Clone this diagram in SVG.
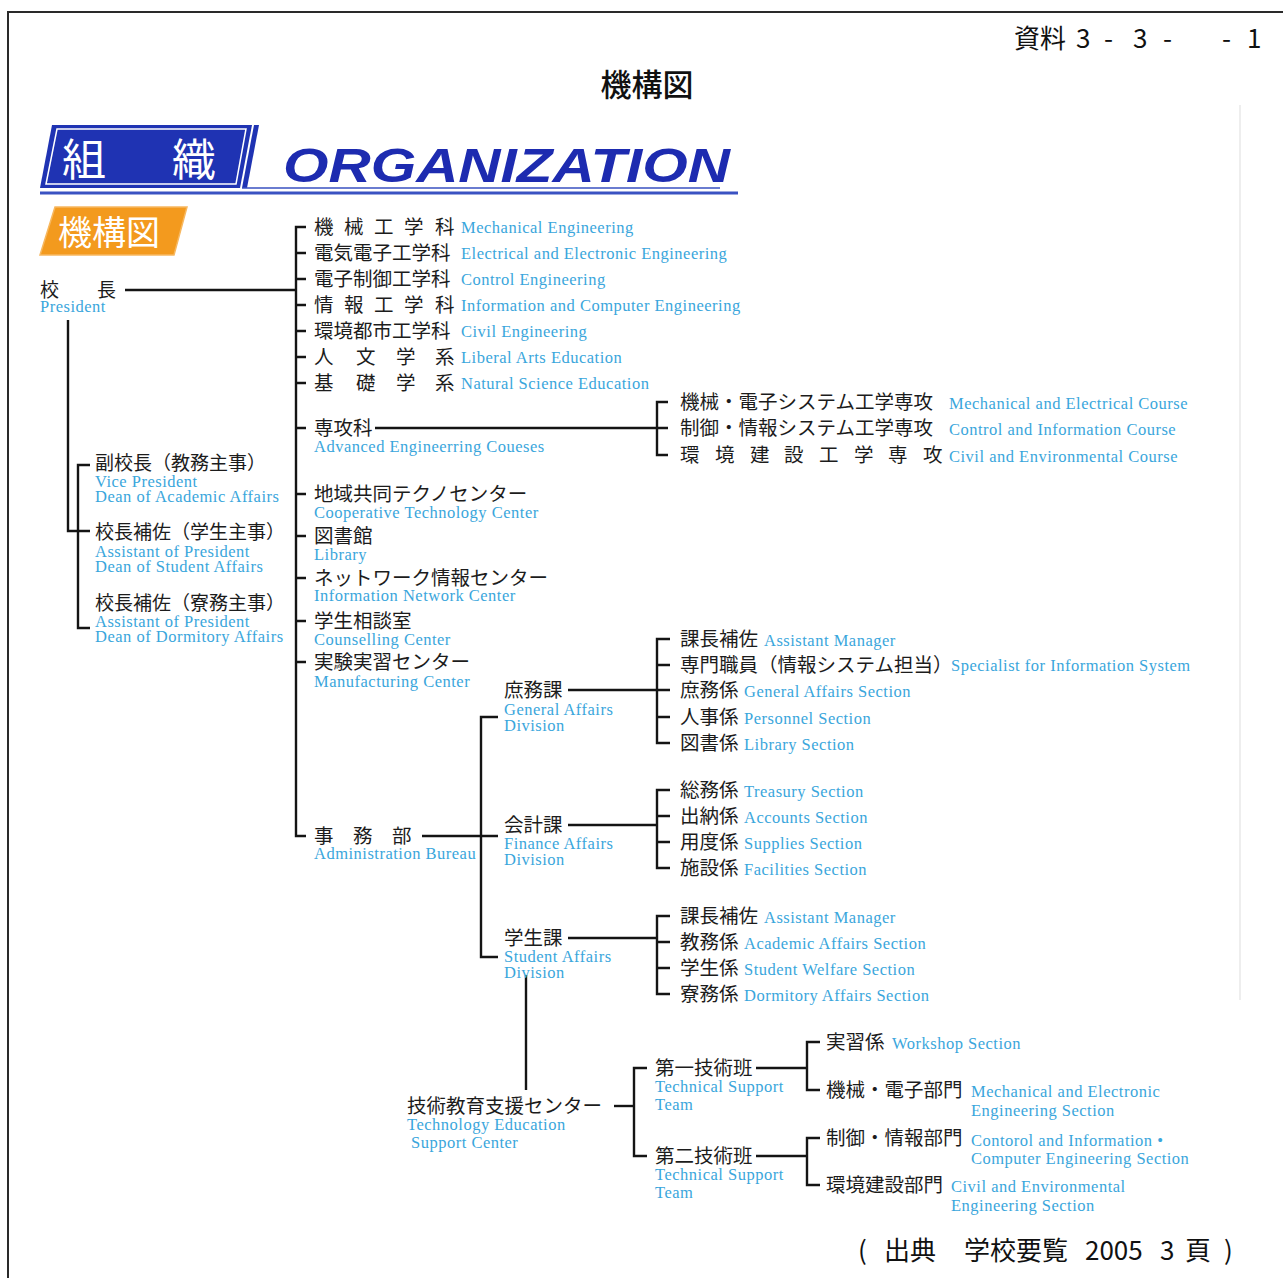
<svg xmlns="http://www.w3.org/2000/svg" width="1283" height="1278" viewBox="0 0 1283 1278">
<style>
.ln{stroke:#141414;stroke-width:2.4;fill:none}
.jp{font-family:"Noto Sans CJK JP",sans-serif;font-size:19.5px;fill:#1c1c1c}
.jps{font-family:"Noto Sans CJK JP",sans-serif;font-size:19px;fill:#1c1c1c}
.en{font-family:"Liberation Serif","Noto Sans CJK JP",serif;font-size:16.5px;letter-spacing:0.5px;fill:#3aa6dc}
.hd{font-family:"Noto Sans CJK JP",sans-serif;fill:#111}
</style>
<rect x="0" y="0" width="1283" height="1278" fill="#ffffff"/>
<path d="M8,1278 V12 H1283" fill="none" stroke="#2a2a2a" stroke-width="2"/>
<path d="M1240,105 V1000" stroke="#eeeeee" stroke-width="2" fill="none"/>

<g id="header">
<text class="hd" font-size="26" y="48"><tspan x="1014">資料</tspan><tspan x="1076">3</tspan><tspan x="1104">-</tspan><tspan x="1133">3</tspan><tspan x="1163">-</tspan><tspan x="1222">-</tspan><tspan x="1247">1</tspan></text>
<text class="hd" font-size="31" font-weight="500" x="647" y="96" text-anchor="middle">機構図</text>
</g>

<g id="banner-org">
<polygon points="52,125 252,125 240,188 40,188" fill="#1f33b3"/>
<polygon points="57,129 246,129 236,184 46,184" fill="none" stroke="#ffffff" stroke-width="1.5"/>
<polygon points="254,125 259,125 247,188 242,188" fill="#1f33b3"/>
<text font-family="Noto Sans CJK JP,sans-serif" font-size="44" fill="#ffffff" y="176"><tspan x="62">組</tspan><tspan x="172">織</tspan></text>
<line x1="242" y1="188" x2="720" y2="188" stroke="#3850c0" stroke-width="1.5"/>
<line x1="40" y1="193" x2="738" y2="193" stroke="#3a52c2" stroke-width="3"/>
<text x="283" y="182" font-family="Liberation Sans,Arial,sans-serif" font-weight="bold" font-style="italic" font-size="48" fill="#1d2bb0" textLength="447" lengthAdjust="spacingAndGlyphs">ORGANIZATION</text>
</g>

<g id="banner-kikouzu">
<polygon points="55,207 187,207 174,255 40,255" fill="#f39a1e" stroke="#f7b860" stroke-width="1.5"/>
<text x="58" y="245" font-family="Noto Sans CJK JP,sans-serif" font-size="34" fill="#ffffff">機構図</text>
</g>

<g id="connectors">
<path class="ln" d="M125,290 H296"/>
<path class="ln" d="M68,320 V531 H90"/>
<path class="ln" d="M90,465 H78 V628 H90"/>
<path class="ln" d="M306,227 H296 V836 H306"/>
<path class="ln" d="M296,253 H306 M296,279 H306 M296,305 H306 M296,331 H306 M296,357 H306 M296,383 H306 M296,428 H306 M296,494 H306 M296,536 H306 M296,578 H306 M296,621 H306 M296,662 H306"/>
<path class="ln" d="M375,428 H668"/>
<path class="ln" d="M668,402 H657 V455 H668"/>
<path class="ln" d="M422,836 H498"/>
<path class="ln" d="M498,717 H481 V957 H498"/>
<path class="ln" d="M568,690 H670"/>
<path class="ln" d="M670,639 H657 V743 H670 M657,665 H670 M657,717 H670"/>
<path class="ln" d="M568,825 H657"/>
<path class="ln" d="M670,790 H657 V868 H670 M657,816 H670 M657,842 H670"/>
<path class="ln" d="M568,938 H657"/>
<path class="ln" d="M670,916 H657 V994 H670 M657,942 H670 M657,968 H670"/>
<path class="ln" d="M526,975 V1090"/>
<path class="ln" d="M614,1106 H634"/>
<path class="ln" d="M647,1068 H634 V1156 H647"/>
<path class="ln" d="M756,1068 H807"/>
<path class="ln" d="M820,1042 H807 V1090 H820"/>
<path class="ln" d="M756,1156 H807"/>
<path class="ln" d="M820,1138 H807 V1185 H820"/>
</g>

<g id="president"><text class="jps" y="297"><tspan x="40">校</tspan><tspan x="97">長</tspan></text><text class="en" x="40" y="312">President</text></g>
<g id="vice-president"><text class="jps" x="95" y="470">副校長（教務主事）</text><text class="en" x="95" y="487">Vice President</text><text class="en" x="95" y="502">Dean of Academic Affairs</text></g>
<g id="asst-student"><text class="jps" x="95" y="539">校長補佐（学生主事）</text><text class="en" x="95" y="557">Assistant of President</text><text class="en" x="95" y="572">Dean of Student Affairs</text></g>
<g id="asst-dorm"><text class="jps" x="95" y="610">校長補佐（寮務主事）</text><text class="en" x="95" y="627">Assistant of President</text><text class="en" x="95" y="642">Dean of Dormitory Affairs</text></g>

<g id="dept-mech"><text class="jp" y="234" x="314 344 374 404 435">機械工学科</text><text class="en" x="461" y="233">Mechanical Engineering</text></g>
<g id="dept-elec"><text class="jp" x="314" y="260">電気電子工学科</text><text class="en" x="461" y="259">Electrical and Electronic Engineering</text></g>
<g id="dept-ctrl"><text class="jp" x="314" y="286">電子制御工学科</text><text class="en" x="461" y="285">Control Engineering</text></g>
<g id="dept-info"><text class="jp" y="312" x="314 344 374 404 435">情報工学科</text><text class="en" x="461" y="311">Information and Computer Engineering</text></g>
<g id="dept-civil"><text class="jp" x="314" y="338">環境都市工学科</text><text class="en" x="461" y="337">Civil Engineering</text></g>
<g id="dept-liberal"><text class="jp" y="364" x="314 356 396 435">人文学系</text><text class="en" x="461" y="363">Liberal Arts Education</text></g>
<g id="dept-natural"><text class="jp" y="390" x="314 356 396 435">基礎学系</text><text class="en" x="461" y="389">Natural Science Education</text></g>

<g id="advanced"><text class="jp" x="314" y="435">専攻科</text><text class="en" x="314" y="452">Advanced Engineerring Coueses</text></g>
<g id="adv-mech"><text class="jp" x="680" y="409">機械・電子システム工学専攻</text><text class="en" x="949" y="409">Mechanical and Electrical Course</text></g>
<g id="adv-ctrl"><text class="jp" x="680" y="435">制御・情報システム工学専攻</text><text class="en" x="949" y="435">Control and Information Course</text></g>
<g id="adv-civil"><text class="jp" y="462" x="680 715 750 784 819 854 888 923">環境建設工学専攻</text><text class="en" x="949" y="462">Civil and Environmental Course</text></g>

<g id="coop"><text class="jp" x="314" y="501">地域共同テクノセンター</text><text class="en" x="314" y="518">Cooperative Technology Center</text></g>
<g id="library"><text class="jp" x="314" y="543">図書館</text><text class="en" x="314" y="560">Library</text></g>
<g id="network"><text class="jp" x="314" y="585">ネットワーク情報センター</text><text class="en" x="314" y="601">Information Network Center</text></g>
<g id="counsel"><text class="jp" x="314" y="628">学生相談室</text><text class="en" x="314" y="645">Counselling Center</text></g>
<g id="manuf"><text class="jp" x="314" y="669">実験実習センター</text><text class="en" x="314" y="687">Manufacturing Center</text></g>
<g id="admin"><text class="jp" y="843" x="314 353 392">事務部</text><text class="en" x="314" y="859">Administration Bureau</text></g>

<g id="general-div"><text class="jp" x="504" y="697">庶務課</text><text class="en" x="504" y="715">General Affairs</text><text class="en" x="504" y="731">Division</text></g>
<g id="finance-div"><text class="jp" x="504" y="832">会計課</text><text class="en" x="504" y="849">Finance Affairs</text><text class="en" x="504" y="865">Division</text></g>
<g id="student-div"><text class="jp" x="504" y="945">学生課</text><text class="en" x="504" y="962">Student Affairs</text><text class="en" x="504" y="978">Division</text></g>

<g id="g-asst"><text class="jp" x="680" y="646">課長補佐</text><text class="en" x="764" y="646">Assistant Manager</text></g>
<g id="g-spec"><text class="jp" x="680" y="672">専門職員（情報システム担当）</text><text class="en" x="951" y="671">Specialist for Information System</text></g>
<g id="g-general"><text class="jp" x="680" y="697">庶務係</text><text class="en" x="744" y="697">General Affairs Section</text></g>
<g id="g-personnel"><text class="jp" x="680" y="724">人事係</text><text class="en" x="744" y="724">Personnel Section</text></g>
<g id="g-library"><text class="jp" x="680" y="750">図書係</text><text class="en" x="744" y="750">Library Section</text></g>

<g id="f-treasury"><text class="jp" x="680" y="797">総務係</text><text class="en" x="744" y="797">Treasury Section</text></g>
<g id="f-accounts"><text class="jp" x="680" y="823">出納係</text><text class="en" x="744" y="823">Accounts Section</text></g>
<g id="f-supplies"><text class="jp" x="680" y="849">用度係</text><text class="en" x="744" y="849">Supplies Section</text></g>
<g id="f-facilities"><text class="jp" x="680" y="875">施設係</text><text class="en" x="744" y="875">Facilities Section</text></g>

<g id="s-asst"><text class="jp" x="680" y="923">課長補佐</text><text class="en" x="764" y="923">Assistant Manager</text></g>
<g id="s-academic"><text class="jp" x="680" y="949">教務係</text><text class="en" x="744" y="949">Academic Affairs Section</text></g>
<g id="s-welfare"><text class="jp" x="680" y="975">学生係</text><text class="en" x="744" y="975">Student Welfare Section</text></g>
<g id="s-dorm"><text class="jp" x="680" y="1001">寮務係</text><text class="en" x="744" y="1001">Dormitory Affairs Section</text></g>

<g id="tech-center"><text class="jp" x="407" y="1113">技術教育支援センター</text><text class="en" x="407" y="1130">Technology Education</text><text class="en" x="411" y="1148">Support Center</text></g>
<g id="team1"><text class="jp" x="655" y="1075">第一技術班</text><text class="en" x="655" y="1092">Technical Support</text><text class="en" x="655" y="1110">Team</text></g>
<g id="team2"><text class="jp" x="655" y="1163">第二技術班</text><text class="en" x="655" y="1180">Technical Support</text><text class="en" x="655" y="1198">Team</text></g>
<g id="workshop"><text class="jp" x="826" y="1049">実習係</text><text class="en" x="892" y="1049">Workshop Section</text></g>
<g id="mech-sec"><text class="jp" x="826" y="1097">機械・電子部門</text><text class="en" x="971" y="1097">Mechanical and Electronic</text><text class="en" x="971" y="1116">Engineering Section</text></g>
<g id="ctrl-sec"><text class="jp" x="826" y="1145">制御・情報部門</text><text class="en" x="971" y="1146">Contorol and Information •</text><text class="en" x="971" y="1164">Computer Engineering Section</text></g>
<g id="civil-sec"><text class="jp" x="826" y="1192">環境建設部門</text><text class="en" x="951" y="1192">Civil and Environmental</text><text class="en" x="951" y="1211">Engineering Section</text></g>

<g id="footer">
<text class="hd" font-size="26" y="1260"><tspan x="858">(</tspan><tspan x="884">出典</tspan><tspan x="964">学校要覧</tspan><tspan x="1085">2005</tspan><tspan x="1160">3</tspan><tspan x="1185">頁</tspan><tspan x="1224">)</tspan></text>
</g>
</svg>
